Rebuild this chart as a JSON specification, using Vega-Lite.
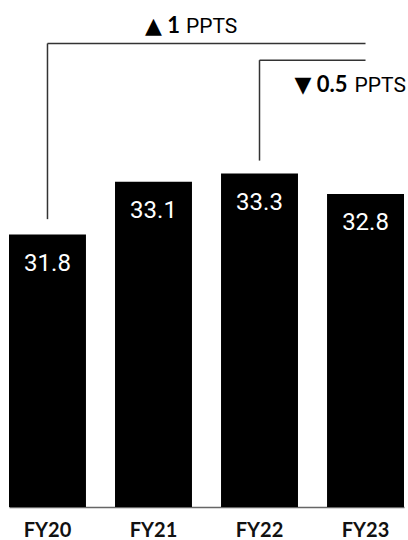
{
  "$schema": "https://vega.github.io/schema/vega-lite/v6.json",
  "autosize": "none",
  "width": 395,
  "height": 507,
  "padding": {"left": 9, "top": 0, "right": 4, "bottom": 33},
  "background": "white",
  "config": {"view": {"stroke": null}},
  "datasets": {
    "bars": [
      {"year": "FY20", "value": 31.8},
      {"year": "FY21", "value": 33.1},
      {"year": "FY22", "value": 33.3},
      {"year": "FY23", "value": 32.8}
    ],
    "vlines": [
      {"year": "FY20", "low": 32.18, "high": 36.5},
      {"year": "FY22", "low": 33.62, "high": 36.09}
    ],
    "hlines": [
      {"from": "FY20", "to": "FY23", "level": 36.5},
      {"from": "FY22", "to": "FY23", "level": 36.09}
    ],
    "notes": [
      {"id": "up", "year": "FY21", "level": 36.76, "change": "▲ 1", "unit": "PPTS"},
      {"id": "down", "year": "FY23", "level": 35.31, "change": "▼ 0.5", "unit": "PPTS"}
    ]
  },
  "encoding": {
    "x": {
      "field": "year",
      "type": "nominal",
      "sort": null,
      "scale": {"domain": ["FY20", "FY21", "FY22", "FY23"], "paddingInner": 0.274, "paddingOuter": 0, "align": 0},
      "axis": {
        "title": null,
        "labelAngle": 0,
        "ticks": false,
        "domain": true,
        "domainColor": "#666666",
        "domainWidth": 1.5,
        "labelFont": "Lato",
        "labelFontWeight": "bold",
        "labelFontSize": 20,
        "labelColor": "#111111",
        "labelPadding": 13
      }
    }
  },
  "layer": [
    {
      "data": {"name": "bars"},
      "mark": {"type": "bar", "color": "#000000", "clip": true},
      "encoding": {
        "y": {"field": "value", "type": "quantitative", "scale": {"domain": [25.1, 37.57], "zero": false, "nice": false}, "axis": null}
      }
    },
    {
      "data": {"name": "bars"},
      "mark": {"type": "text", "color": "white", "font": "Roboto", "fontSize": 24, "baseline": "alphabetic", "dy": 36},
      "encoding": {
        "y": {"field": "value", "type": "quantitative"},
        "text": {"field": "value", "type": "quantitative", "format": ".1f"}
      }
    },
    {
      "data": {"name": "vlines"},
      "mark": {"type": "rule", "color": "#333333", "strokeWidth": 1.5},
      "encoding": {
        "y": {"field": "low", "type": "quantitative"},
        "y2": {"field": "high"}
      }
    },
    {
      "data": {"name": "hlines"},
      "mark": {"type": "rule", "color": "#333333", "strokeWidth": 1.5},
      "encoding": {
        "x": {"field": "from", "type": "nominal"},
        "x2": {"field": "to"},
        "y": {"field": "level", "type": "quantitative"}
      }
    },
    {
      "data": {"name": "notes"},
      "transform": [{"filter": "datum.id === 'up'"}],
      "layer": [
        {
          "mark": {"type": "text", "align": "right", "baseline": "alphabetic", "dx": 26.5, "font": "Lato, DejaVu Sans", "fontWeight": "bold", "fontSize": 22, "color": "#000000"},
          "encoding": {"y": {"field": "level", "type": "quantitative"}, "text": {"field": "change"}}
        },
        {
          "mark": {"type": "text", "align": "left", "baseline": "alphabetic", "dx": 32.5, "font": "Roboto", "fontSize": 21, "color": "#000000"},
          "encoding": {"y": {"field": "level", "type": "quantitative"}, "text": {"field": "unit"}}
        }
      ]
    },
    {
      "data": {"name": "notes"},
      "transform": [{"filter": "datum.id === 'down'"}],
      "layer": [
        {
          "mark": {"type": "text", "align": "right", "baseline": "alphabetic", "dx": -18, "font": "Lato, DejaVu Sans", "fontWeight": "bold", "fontSize": 22, "color": "#000000"},
          "encoding": {"y": {"field": "level", "type": "quantitative"}, "text": {"field": "change"}}
        },
        {
          "mark": {"type": "text", "align": "left", "baseline": "alphabetic", "dx": -11, "font": "Roboto", "fontSize": 21, "color": "#000000"},
          "encoding": {"y": {"field": "level", "type": "quantitative"}, "text": {"field": "unit"}}
        }
      ]
    }
  ]
}
